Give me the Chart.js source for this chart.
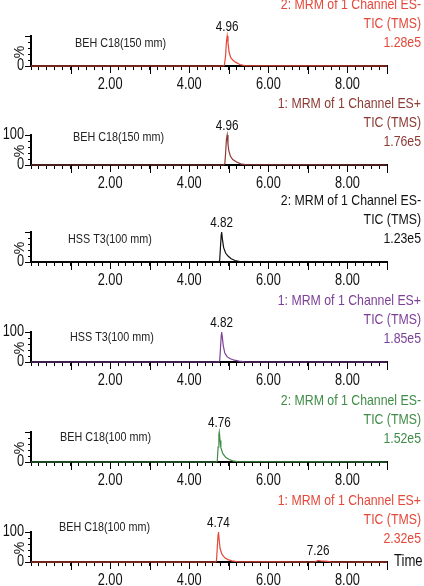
<!DOCTYPE html>
<html>
<head>
<meta charset="utf-8">
<script src="https://cdn.jsdelivr.net/npm/chart.js@4.4.1/dist/chart.umd.min.js"></script>
<style>
  body { margin: 0; background: #fff; width: 424px; height: 586px; overflow: hidden; position: relative; }
  .panel { position: absolute; left: 0; width: 424px; height: 120px; }
</style>
</head>
<body>
<div class="panel" style="top:-21px"><canvas id="c0" width="424" height="120"></canvas></div>
<div class="panel" style="top:78px"><canvas id="c1" width="424" height="120"></canvas></div>
<div class="panel" style="top:175px"><canvas id="c2" width="424" height="120"></canvas></div>
<div class="panel" style="top:275px"><canvas id="c3" width="424" height="120"></canvas></div>
<div class="panel" style="top:375px"><canvas id="c4" width="424" height="120"></canvas></div>
<div class="panel" style="top:475px"><canvas id="c5" width="424" height="120"></canvas></div>
<script>
// retention time (min) / relative intensity (%) for each trace
const times1 = [0, 4.86, 4.89, 4.92, 4.94, 4.96, 4.98, 5.01, 5.05, 5.10, 5.18, 5.28, 5.40, 9.0];
const pct1   = [0, 0, 3, 35, 80, 100, 78, 45, 28, 20, 12, 5, 1, 0];

const times2 = [0, 4.87, 4.90, 4.92, 4.94, 4.96, 4.98, 5.00, 5.04, 5.10, 5.20, 5.30, 5.42, 9.0];
const pct2   = [0, 0, 4, 40, 85, 100, 70, 48, 30, 18, 10, 4, 1, 0];

const times3 = [0, 4.74, 4.77, 4.79, 4.81, 4.82, 4.84, 4.87, 4.92, 4.98, 5.06, 5.16, 5.28, 9.0];
const pct3   = [0, 0, 5, 50, 92, 100, 75, 48, 30, 20, 11, 5, 1, 0];

const times4 = [0, 4.74, 4.77, 4.79, 4.81, 4.82, 4.84, 4.86, 4.90, 4.96, 5.04, 5.14, 5.26, 5.40, 9.0];
const pct4   = [0, 0, 4, 45, 90, 100, 80, 55, 30, 17, 11, 6, 3, 0.5, 0];

const times5 = [0, 4.69, 4.71, 4.73, 4.75, 4.76, 4.78, 4.80, 4.85, 4.92, 5.00, 5.10, 5.22, 9.0];
const pct5   = [0, 0, 5, 50, 92, 100, 72, 48, 28, 16, 9, 4, 1, 0];

const times6 = [0, 4.67, 4.69, 4.71, 4.73, 4.74, 4.76, 4.78, 4.83, 4.90, 4.98, 5.08, 5.20, 7.15, 7.22, 7.26, 7.32, 7.40, 7.50, 7.60, 9.0];
const pct6   = [0, 0, 5, 50, 92, 100, 70, 45, 25, 14, 8, 4, 1, 0, 3, 5, 4, 3, 2, 0, 0];

const allTimes = [times1, times2, times3, times4, times5, times6];
const allPct = [pct1, pct2, pct3, pct4, pct5, pct6];

const columns = ['BEH C18(150 mm)', 'BEH C18(150 mm)', 'HSS T3(100 mm)', 'HSS T3(100 mm)', 'BEH C18(100 mm)', 'BEH C18(100 mm)'];
const channels = ['2: MRM of 1 Channel ES-', '1: MRM of 1 Channel ES+', '2: MRM of 1 Channel ES-',
                  '1: MRM of 1 Channel ES+', '2: MRM of 1 Channel ES-', '1: MRM of 1 Channel ES+'];
const ticLabel = 'TIC (TMS)';
const maxCounts = ['1.28e5', '1.76e5', '1.23e5', '1.85e5', '1.52e5', '2.32e5'];
const peaks = [[4.96], [4.96], [4.82], [4.82], [4.76], [4.74, 7.26]];
const xTickLabels = [2, 4, 6, 8];
const yTickLabels = [[0], [0, 100], [0], [0, 100], [0], [0, 100]];

// styling / placement per panel
const colors = ['#e4483a', '#8c3a34', '#111111', '#7c3f97', '#3f8c46', '#e4483a'];
const columnPos = [[75, -23], [73, -28], [68, -23], [70, -25], [60, -25], [59, -35]];

const FONT = "'Liberation Sans', Arial, sans-serif";

// the original uses a condensed face; squeeze the regular one horizontally
function narrowText(ctx, text, x, y, squeeze) {
  ctx.save();
  ctx.translate(x, y);
  ctx.scale(squeeze || 0.8, 1);
  ctx.fillText(text, 0, 0);
  ctx.restore();
}

const decor = {
  id: 'decor',
  afterDraw(chart) {
    const {ctx, chartArea: area, scales: {x, y}} = chart;
    const i = chart.options.plugins.decor.index;
    const bottom = area.bottom;
    ctx.save();

    // whole-minute ticks are longer
    ctx.strokeStyle = '#000';
    ctx.lineWidth = 1;
    for (let t = 1; t <= 9; t++) {
      const px = Math.round(x.getPixelForValue(t)) + 0.5;
      ctx.beginPath();
      ctx.moveTo(px, bottom);
      ctx.lineTo(px, bottom + (t % 2 === 0 ? 7 : 8));
      ctx.stroke();
    }
    [0, 100].forEach(v => {
      const py = Math.round(y.getPixelForValue(v)) + 0.5;
      ctx.beginPath();
      ctx.moveTo(area.left, py);
      ctx.lineTo(area.left - 6, py);
      ctx.stroke();
    });

    ctx.fillStyle = '#111';
    ctx.textBaseline = 'middle';

    // tick labels from the scales' own ticks
    ctx.font = '16px ' + FONT;
    ctx.textAlign = 'center';
    x.ticks.forEach(tk => {
      if (tk.label) narrowText(ctx, tk.label, x.getPixelForValue(tk.value), bottom + 19, 0.8);
    });
    ctx.textAlign = 'right';
    y.ticks.forEach(tk => {
      if (tk.label) narrowText(ctx, tk.label, area.left - 7, y.getPixelForValue(tk.value), 0.8);
    });

    // % axis label
    ctx.font = '14px ' + FONT;
    ctx.textAlign = 'center';
    ctx.save();
    ctx.translate(20, (area.top + area.bottom) / 2 + 1);
    ctx.rotate(-Math.PI / 2);
    ctx.fillText('%', 0, 0);
    ctx.restore();

    // column name
    ctx.font = '13px ' + FONT;
    ctx.textAlign = 'left';
    ctx.fillStyle = '#222';
    narrowText(ctx, columns[i], columnPos[i][0], bottom + columnPos[i][1], 0.83);

    // peak apex labels
    ctx.font = '15px ' + FONT;
    ctx.textAlign = 'center';
    ctx.textBaseline = 'bottom';
    ctx.fillStyle = '#111';
    peaks[i].forEach(p => {
      let top = 0;
      allTimes[i].forEach((t, k) => { if (Math.abs(t - p) < 0.15) top = Math.max(top, allPct[i][k]); });
      narrowText(ctx, p.toFixed(2), x.getPixelForValue(p), y.getPixelForValue(top) - 2, 0.78);
    });

    // trace description, top right
    ctx.font = '15px ' + FONT;
    ctx.fillStyle = colors[i];
    ctx.textAlign = 'right';
    ctx.textBaseline = 'middle';
    narrowText(ctx, channels[i], 421, bottom - 61, 0.82);
    narrowText(ctx, ticLabel, 421, bottom - 42, 0.82);
    narrowText(ctx, maxCounts[i], 421, bottom - 23, 0.82);

    if (i === 5) {
      ctx.font = '16px ' + FONT;
      ctx.fillStyle = '#111';
      ctx.textAlign = 'left';
      narrowText(ctx, 'Time', area.right + 7, bottom, 0.82);
    }
    ctx.restore();
  }
};

for (let i = 0; i < 6; i++) {
  const canvas = document.getElementById('c' + i);
  new Chart(canvas.getContext('2d'), {
    type: 'line',
    data: {
      datasets: [{
        data: allTimes[i].map((t, k) => ({x: t, y: allPct[i][k]})),
        borderColor: colors[i],
        borderWidth: 1.2,
        pointRadius: 0,
        tension: 0,
        clip: 4,
      }]
    },
    options: {
      responsive: false,
      animation: false,
      events: [],
      layout: { padding: { left: 0, right: 37, top: 57, bottom: 0 } },
      plugins: {
        legend: { display: false },
        tooltip: { enabled: false },
        decor: { index: i },
      },
      scales: {
        x: {
          type: 'linear',
          min: 0,
          max: 9,
          afterFit: s => { s.height = 33; },
          border: { display: true, color: '#000', width: 2 },
          grid: { display: true, drawOnChartArea: false, tickLength: 4, color: '#000', lineWidth: 1 },
          ticks: {
            display: false,
            stepSize: 0.2,
            maxTicksLimit: 60,
            autoSkip: false,
            maxRotation: 0,
            callback: v => xTickLabels.some(l => Math.abs(l - v) < 1e-6) ? v.toFixed(2) : '',
          },
        },
        y: {
          min: 0,
          max: 100,
          afterFit: s => { s.width = 31; },
          border: { display: true, color: '#000', width: 2 },
          grid: { display: true, drawOnChartArea: false, tickLength: 3, color: '#000', lineWidth: 1 },
          ticks: {
            display: false,
            stepSize: 20,
            autoSkip: false,
            callback: v => yTickLabels[i].includes(v) ? String(v) : '',
          },
        },
      },
    },
    plugins: [decor],
  });
}
</script>
</body>
</html>
